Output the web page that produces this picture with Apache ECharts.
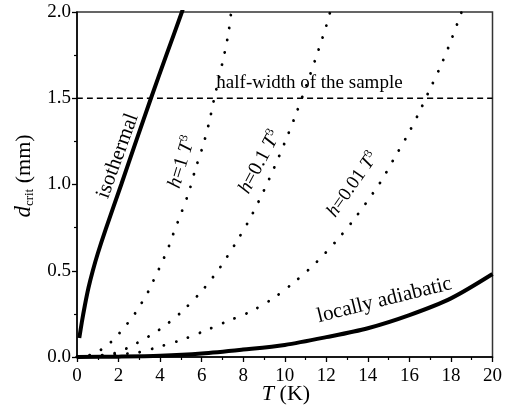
<!DOCTYPE html>
<html><head><meta charset="utf-8">
<script src="https://cdn.jsdelivr.net/npm/echarts@6/dist/echarts.min.js"></script>
<style>html,body{margin:0;padding:0;background:#fff}#c{width:505px;height:411px}</style>
</head><body><div id="c"></div>
<script>
// ---- data (T in K, d_crit in mm) ----
const xTickLabels = ['0','2','4','6','8','10','12','14','16','18','20'];
const yTickLabels = ['0.0','0.5','1.0','1.5','2.0'];
const isothermal = [[0.11,0.11],[0.23,0.2],[0.38,0.3],[0.55,0.4],[0.76,0.5],[1.0,0.6],[1.38,0.74],[2.13,1.0],[2.84,1.25],[3.56,1.5],[4.3,1.75],[5.05,2.0],[5.12,2.03]];
const h1 = [[0,0],[0.65,0.012],[1.26,0.05],[1.78,0.103],[2.26,0.17],[2.69,0.234],[3.04,0.30],[3.36,0.363],[3.64,0.433],[3.90,0.499],[4.14,0.562],[4.38,0.628],[4.58,0.696],[4.79,0.763],[5.0,0.829],[5.39,0.958],[5.71,1.094],[6.06,1.223],[6.35,1.355],[6.59,1.49],[6.83,1.616],[7.10,1.76],[7.30,1.886],[7.45,2.03]];
const h01 = [[0,0],[1.78,0.021],[2.86,0.079],[3.96,0.158],[5.03,0.261],[6.06,0.39],[6.91,0.523],[7.62,0.657],[8.29,0.794],[9.0,0.966],[9.5,1.10],[10.0,1.243],[10.5,1.395],[11.0,1.561],[11.5,1.735],[12.0,1.92],[12.25,2.03]];
const h001 = [[0,0],[2.88,0.025],[3.96,0.06],[5.03,0.099],[6.06,0.147],[7.19,0.205],[8.29,0.26],[9.37,0.334],[10.49,0.437],[11.52,0.549],[12.55,0.682],[13.43,0.813],[14.62,1.016],[15.26,1.15],[15.89,1.282],[16.45,1.413],[16.93,1.538],[17.46,1.674],[17.89,1.799],[18.31,1.934],[18.6,2.03]];
const adiabatic = [[0,0],[2,0.002],[4,0.007],[6,0.02],[8,0.043],[10,0.07],[12,0.115],[14,0.167],[16,0.243],[18,0.34],[20,0.481]];
const halfWidth = 1.5;

const FONT = '"Liberation Serif", "Times New Roman", serif';
const chart = echarts.init(document.getElementById('c'), null, {renderer:'canvas'});

const dotted = {type:[0.1, 12.5], width:2.8, cap:'round', color:'#000'};
function lineSeries(data, style){
  return {type:'line', data, symbol:'none', smooth:0.3, lineStyle:style, silent:true, animation:false, clip:true};
}
const axisLabelStyle = {fontFamily:FONT, fontSize:19, color:'#000'};
chart.setOption({
  animation:false,
  textStyle:{fontFamily:FONT},
  grid:{left:77, right:9, top:12, bottom:54, show:true, borderColor:'#333', borderWidth:1.5, backgroundColor:'transparent'},
  xAxis:{type:'value', min:0, max:20, interval:2,
    axisLine:{show:true, onZero:false, lineStyle:{color:'#000', width:1.5}},
    axisTick:{show:true, inside:false, length:5, lineStyle:{color:'#000', width:1.3}},
    minorTick:{show:true, splitNumber:2, length:3, lineStyle:{color:'#000', width:1.2}},
    splitLine:{show:false},
    axisLabel:Object.assign({margin:10, formatter:(v)=>xTickLabels[Math.round(v/2)]}, axisLabelStyle)
  },
  yAxis:{type:'value', min:0, max:2, interval:0.5,
    axisLine:{show:true, onZero:false, lineStyle:{color:'#000', width:1.5}},
    axisTick:{show:true, inside:false, length:5, lineStyle:{color:'#000', width:1.3}},
    minorTick:{show:true, splitNumber:2, length:3, lineStyle:{color:'#000', width:1.2}},
    splitLine:{show:false},
    axisLabel:Object.assign({margin:6, formatter:(v)=>yTickLabels[Math.round(v/0.5)]}, axisLabelStyle)
  },
  series:[
    lineSeries([[0,halfWidth],[20,halfWidth]], {type:[6,4], width:1.5, color:'#000'}),
    lineSeries(h1, dotted),
    lineSeries(h01, dotted),
    lineSeries(h001, dotted),
    lineSeries(isothermal, {width:4, color:'#000'}),
    lineSeries(adiabatic, {width:4, color:'#000'})
  ]
});

// annotations anchored in data coordinates
const annotations = [
  {at:[11.19,1.588], rot:0, text:'half-width of the sample', size:19},
  {at:[1.96,1.165], rot:70, text:'isothermal', size:21},
  {at:[5.05,1.13], rot:73, text:'{i|h}=1 {i|T}{s|3}', size:20},
  {at:[8.8,1.13], rot:62, text:'{i|h}=0.1 {i|T}{s|3}', size:20},
  {at:[13.27,1.0], rot:55, text:'{i|h}=0.01 {i|T}{s|3}', size:19},
  {at:[14.8,0.33], rot:14, text:'locally adiabatic', size:21}
];
const graphics = annotations.map(a=>{
  const p = chart.convertToPixel({gridIndex:0}, a.at);
  return {type:'text', x:p[0], y:p[1], rotation:a.rot*Math.PI/180, silent:true,
    style:{text:a.text, fontFamily:FONT, fontSize:a.size, fill:'#000', align:'center', verticalAlign:'middle',
      rich:{i:{fontStyle:'italic', fontFamily:FONT, fontSize:a.size, lineHeight:a.size+2, verticalAlign:'middle'},
            s:{fontFamily:FONT, fontSize:12, lineHeight:12, verticalAlign:'top'}}}};
});
graphics.push({type:'text', x:24, y:176, rotation:Math.PI/2, silent:true,
  style:{text:'{d|d}{s|crit}{n| (mm)}', align:'center', verticalAlign:'middle', fill:'#000',
    rich:{d:{fontFamily:FONT, fontStyle:'italic', fontSize:23, lineHeight:24, verticalAlign:'middle'},
          s:{fontFamily:FONT, fontSize:13, lineHeight:13, verticalAlign:'bottom'},
          n:{fontFamily:FONT, fontSize:22, lineHeight:24, verticalAlign:'middle'}}}});
graphics.push({type:'text', x:286, y:394, silent:true,
  style:{text:'{t|T} (K)', fontFamily:FONT, fontSize:22, align:'center', verticalAlign:'middle', fill:'#000',
    rich:{t:{fontFamily:FONT, fontStyle:'italic', fontSize:22}}}});
chart.setOption({graphic:graphics});
</script></body></html>
